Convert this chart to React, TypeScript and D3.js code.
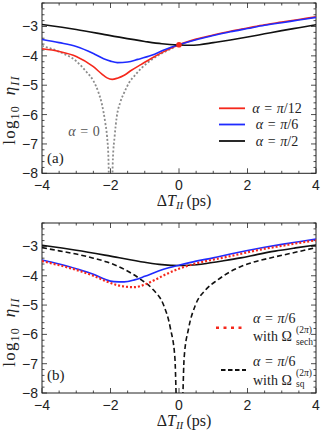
import React from 'react';
import * as d3 from 'd3';

type Pt = [number, number];

// tick values
const xTickLabels = [-4, -2, 0, 2, 4];
const yTickLabels = [-3, -4, -5, -6, -7, -8];

// panel (a): log10 eta vs Delta T (ps)
const grayA0: Pt[] = [
  [-4, -3.66], [-3.5, -3.86], [-3, -4.18], [-2.7, -4.55], [-2.5, -4.85], [-2.35, -5.25],
  [-2.25, -5.65], [-2.15, -6.3], [-2.1, -6.75], [-2.06, -7.5], [-2.03, -9],
  [-1.97, -9], [-1.93, -7.5], [-1.88, -6.75], [-1.82, -6.1], [-1.72, -5.6], [-1.6, -5.25],
  [-1.45, -4.9], [-1.3, -4.68], [-1.1, -4.42], [-0.9, -4.22], [-0.6, -3.98], [-0.3, -3.8], [0, -3.62],
];
const redA12: Pt[] = [
  [-4, -3.76], [-3.5, -3.85], [-3, -4.02], [-2.5, -4.37], [-2.25, -4.62], [-2.1, -4.75],
  [-1.95, -4.8], [-1.8, -4.76], [-1.6, -4.66], [-1.4, -4.5], [-1.1, -4.29], [-0.8, -4.08],
  [-0.4, -3.83], [0, -3.62], [0.5, -3.43], [1, -3.29], [1.5, -3.16], [2, -3.05], [2.5, -2.94],
  [3, -2.85], [3.5, -2.76], [4, -2.67],
];
const blueA6: Pt[] = [
  [-4, -3.44], [-3.5, -3.55], [-3, -3.68], [-2.5, -3.92], [-2.2, -4.1], [-2, -4.18],
  [-1.8, -4.23], [-1.5, -4.21], [-1.2, -4.12], [-0.8, -3.98], [-0.4, -3.78], [0, -3.62],
  [0.5, -3.45], [1, -3.31], [1.5, -3.18], [2, -3.07], [2.5, -2.96], [3, -2.87], [3.5, -2.78], [4, -2.69],
];
const blackA2: Pt[] = [
  [-4, -2.93], [-3, -3.1], [-2, -3.31], [-1, -3.51], [-0.5, -3.59], [0, -3.63], [0.3, -3.64],
  [0.6, -3.62], [1, -3.55], [1.5, -3.46], [2, -3.36], [2.5, -3.25], [3, -3.14], [3.5, -3.04], [4, -2.94],
];
const markA: Pt = [0, -3.62];

// panel (b)
const blackB2: Pt[] = [
  [-4, -2.96], [-3, -3.13], [-2, -3.33], [-1, -3.54], [-0.5, -3.62], [0, -3.65], [0.3, -3.64],
  [0.8, -3.58], [1.3, -3.49], [1.8, -3.39], [2.3, -3.27], [2.8, -3.16], [3.4, -3.05], [4, -2.95],
];
const blueB6: Pt[] = [
  [-4, -3.46], [-3.5, -3.6], [-3, -3.76], [-2.5, -3.95], [-2.2, -4.1], [-1.9, -4.2],
  [-1.6, -4.21], [-1.3, -4.14], [-1, -4.02], [-0.6, -3.84], [-0.3, -3.73], [0, -3.64],
  [0.5, -3.5], [1, -3.39], [1.5, -3.26], [2, -3.14], [2.5, -3.03], [3, -2.93], [3.5, -2.84], [4, -2.75],
];
const sechB6: Pt[] = [
  [-4, -3.5], [-3.5, -3.64], [-3, -3.8], [-2.5, -4.0], [-2.1, -4.2], [-1.8, -4.32], [-1.5, -4.38],
  [-1.3, -4.39], [-1, -4.3], [-0.7, -4.14], [-0.4, -3.96], [0, -3.76], [0.5, -3.58], [1, -3.45],
  [1.5, -3.33], [2, -3.2], [2.5, -3.08], [3, -2.98], [3.5, -2.88], [4, -2.79],
];
const sqB6: Pt[] = [
  [-4, -3.04], [-3.5, -3.15], [-3, -3.26], [-2.5, -3.4], [-2.1, -3.53], [-1.6, -3.78],
  [-1.1, -4.14], [-0.75, -4.48], [-0.45, -5.0], [-0.25, -5.8], [-0.12, -6.8], [-0.05, -9],
  [0.08, -9], [0.15, -6.8], [0.28, -5.8], [0.48, -5.0], [0.78, -4.48], [1.13, -4.14],
  [1.63, -3.78], [2.13, -3.55], [2.75, -3.37], [3.4, -3.2], [4, -3.04],
];

const RED = '#f5281c';
const BLUE = '#1f2bff';
const BLACK = '#111';
const GRAY = '#8c8c8c';
const SERIF = '"Liberation Serif", "DejaVu Serif", serif';
const SANS = '"Liberation Sans", Arial, sans-serif';

const x = d3.scaleLinear().domain([-4, 4]).range([42, 316]);
const yA = d3.scaleLinear().domain([-8, -2.2]).range([173.3, 3]);
const yB = d3.scaleLinear().domain([-8, -2.2]).range([393, 223]);

const xMinor = d3.range(-4, 4.001, 0.5);
const yMinor = d3.range(0, 30).map(i => -8 + i * 0.2).filter(v => v <= -2.2 + 1e-6);

const isInt = (v: number) => Math.abs(v - Math.round(v)) < 1e-6;

function Frame({ y, id, labelCy }: { y: d3.ScaleLinear<number, number>; id: string; labelCy: number }) {
  const [yb, yt] = y.range();
  const [xl, xr] = x.range();
  return (
    <g>
      <defs>
        <clipPath id={id}>
          <rect x={xl} y={yt} width={xr - xl} height={yb - yt} />
        </clipPath>
      </defs>
      <rect x={xl} y={yt} width={xr - xl} height={yb - yt} fill="none" stroke="#222" strokeWidth={1} />
      {xMinor.map(t => {
        const len = isInt(t) && Math.round(t) % 2 === 0 ? 5 : 2.5;
        return (
          <g key={'x' + t} stroke="#222" strokeWidth={0.8}>
            <line x1={x(t)} x2={x(t)} y1={yb} y2={yb - len} />
            <line x1={x(t)} x2={x(t)} y1={yt} y2={yt + len} />
          </g>
        );
      })}
      {yMinor.map(t => {
        const len = isInt(t) ? 5 : 2.5;
        return (
          <g key={'y' + t.toFixed(1)} stroke="#222" strokeWidth={0.8}>
            <line x1={xl} x2={xl + len} y1={y(t)} y2={y(t)} />
            <line x1={xr} x2={xr - len} y1={y(t)} y2={y(t)} />
          </g>
        );
      })}
      {xTickLabels.map(t => (
        <text key={'xl' + t} x={x(t)} y={yb + 17} textAnchor="middle" fontFamily={SANS} fontSize={14} fill="#222">
          {t < 0 ? '\u2212' + Math.abs(t) : t}
        </text>
      ))}
      {yTickLabels.map(t => (
        <text key={'yl' + t} x={38} y={y(t) + 5} textAnchor="end" fontFamily={SANS} fontSize={14} fill="#222">
          {'\u2212' + Math.abs(t)}
        </text>
      ))}
      <text x={184} y={yb + 33} textAnchor="middle" fontFamily={SERIF} fontSize={16} fill="#222">
        Δ<tspan fontStyle="italic">T</tspan>
        <tspan fontStyle="italic" fontSize={11} dy={3}>II</tspan>
        <tspan dy={-3}>{'\u2009(ps)'}</tspan>
      </text>
      <text transform={`translate(15,${labelCy}) rotate(-90)`} textAnchor="middle" fontFamily={SERIF} fontSize={17} fill="#222" letterSpacing={1.2}>
        log<tspan fontSize={12} dy={4}>10</tspan>
        <tspan dy={-4} fontStyle="italic">{'\u2002η'}</tspan>
        <tspan fontStyle="italic" fontSize={12} dy={4}>II</tspan>
      </text>
    </g>
  );
}

function Alpha({ x0, y0, denom, anchor = 'start', size = 14, fill = '#222' }: { x0: number; y0: number; denom: string; anchor?: string; size?: number; fill?: string }) {
  return (
    <text x={x0} y={y0} textAnchor={anchor as any} fontFamily={SERIF} fontSize={size} fill={fill}>
      <tspan fontStyle="italic">α</tspan>
      {'\u2004=\u2004'}
      {denom === '' ? '0' : <><tspan fontStyle="italic">π</tspan>{'/' + denom}</>}
    </text>
  );
}

function Curve({ data, y, stroke, dash, width = 1.6, clip }: { data: Pt[]; y: d3.ScaleLinear<number, number>; stroke: string; dash?: string; width?: number; clip: string }) {
  const line = d3.line<Pt>().x(d => x(d[0])).y(d => y(d[1])).curve(d3.curveMonotoneX);
  return <path d={line(data) || ''} fill="none" stroke={stroke} strokeWidth={width} strokeDasharray={dash} clipPath={`url(#${clip})`} />;
}

export default function App() {
  return (
    <svg width={324} height={434} style={{ position: 'absolute', left: 0, top: 0, background: '#fff' }}>
      {/* panel (a) */}
      <Frame y={yA} id="clipA" labelCy={110} />
      <Curve data={grayA0} y={yA} stroke={GRAY} dash="2,2" width={1.8} clip="clipA" />
      <Curve data={redA12} y={yA} stroke={RED} clip="clipA" />
      <Curve data={blueA6} y={yA} stroke={BLUE} clip="clipA" />
      <Curve data={blackA2} y={yA} stroke={BLACK} clip="clipA" />
      <circle cx={x(markA[0])} cy={yA(markA[1])} r={2.8} fill={RED} />
      <Alpha x0={84} y0={135.5} denom="" anchor="middle" size={14} fill="#555" />
      <text x={47} y={163} fontFamily={SERIF} fontSize={15} fill="#222">(a)</text>
      {[['12', RED, 108.3], ['6', BLUE, 124.5], ['2', BLACK, 141]].map(([d, c, ly]) => (
        <g key={d as string}>
          <line x1={219} x2={245} y1={ly as number} y2={ly as number} stroke={c as string} strokeWidth={1.8} />
          <Alpha x0={277} y0={(ly as number) + 4.5} denom={d as string} anchor="middle" />
        </g>
      ))}

      {/* panel (b) */}
      <Frame y={yB} id="clipB" labelCy={332} />
      <Curve data={blackB2} y={yB} stroke={BLACK} clip="clipB" />
      <Curve data={sqB6} y={yB} stroke={BLACK} dash="5,3" clip="clipB" />
      <Curve data={blueB6} y={yB} stroke={BLUE} clip="clipB" />
      <Curve data={sechB6} y={yB} stroke={RED} dash="2,2" width={2.2} clip="clipB" />
      <text x={47} y={379.5} fontFamily={SERIF} fontSize={15} fill="#222">(b)</text>

      <line x1={216} x2={243} y1={327.7} y2={327.7} stroke={RED} strokeWidth={2.6} strokeDasharray="3,4.5" />
      <Alpha x0={253} y0={322.5} denom="6" />
      <text x={253} y={341} fontFamily={SERIF} fontSize={14} fill="#222">with Ω</text>
      <text x={296} y={333} fontFamily={SERIF} fontSize={9.5} fill="#222">(2<tspan fontStyle="italic">π</tspan>)</text>
      <text x={296} y={344.5} fontFamily={SERIF} fontSize={9.5} fill="#222">sech</text>

      <line x1={221} x2={246} y1={370} y2={370} stroke={BLACK} strokeWidth={1.8} strokeDasharray="4.5,2.5" />
      <Alpha x0={253} y0={366} denom="6" />
      <text x={253} y={384.5} fontFamily={SERIF} fontSize={14} fill="#222">with Ω</text>
      <text x={296} y={376} fontFamily={SERIF} fontSize={9.5} fill="#222">(2<tspan fontStyle="italic">π</tspan>)</text>
      <text x={296} y={386.5} fontFamily={SERIF} fontSize={9.5} fill="#222">sq</text>
    </svg>
  );
}
